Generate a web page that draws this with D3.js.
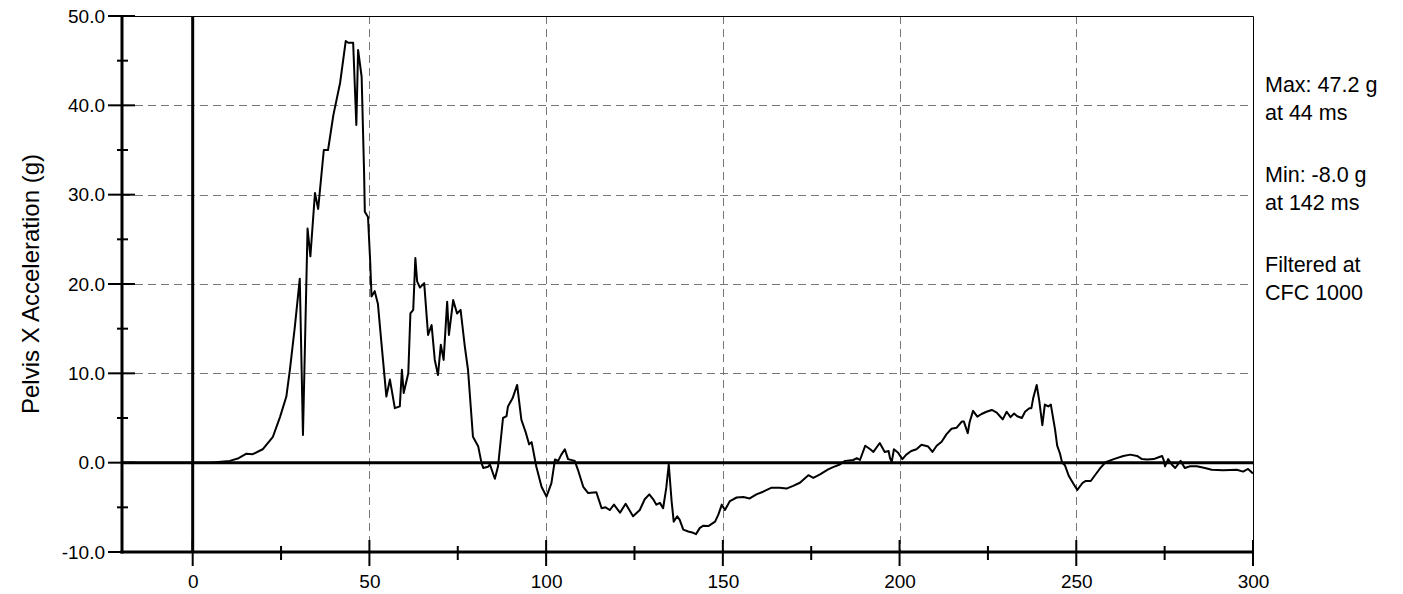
<!DOCTYPE html>
<html>
<head>
<meta charset="utf-8">
<script src="https://cdn.jsdelivr.net/npm/d3@7"></script>
<style>
  body{margin:0;background:#fff}
  svg{display:block;font-family:Arial,"Liberation Sans",sans-serif}
</style>
</head>
<body>
<div id="chart"></div>
<script>

  // trace: time (ms) and pelvis x acceleration (g)
  var time = [
    -20, 0, 5, 8, 10.5, 13, 15.2, 17, 19.8, 22.7, 24.7, 26.5, 27.5, 28.9, 30.3, 31.2, 32.5, 33.3, 34.6, 35.5,
    37.1, 38.3, 39.8, 41.7, 43.3, 44, 45.4, 46.3, 46.8, 47.8, 48.5, 48.7, 49.6, 50.2, 50.6, 51.5, 52.4, 53.4, 54.8, 55.8,
    57.2, 58.6, 59.2, 59.7, 61, 61.6, 62.4, 63, 63.5, 64.3, 65.5, 66.6, 67.6, 68.5, 69.4, 70.2, 71, 72, 72.5, 73.7,
    74.8, 75.8, 77, 77.9, 79.3, 80.8, 81.7, 82.2, 83.6, 84.1, 85.5, 86.4, 87.8, 88.8, 89.2, 90.5, 91.8, 93, 94.3, 95.2,
    95.9, 97.2, 98.7, 100.1, 101.5, 102.5, 103.4, 104.3, 105.3, 106.2, 108.1, 109, 110.5, 111.9, 114.2, 115.7, 116.8, 118, 119.2, 120.9,
    122.5, 124.6, 126.5, 127.9, 129.2, 130.3, 131.2, 132.2, 133.1, 134, 134.7, 135.5, 136.1, 137.1, 137.8, 138.8, 140.2, 141.6, 142.4, 143.5,
    144.5, 145.9, 147.8, 148.7, 149.7, 150.6, 152, 153.9, 155.8, 157.6, 159.5, 161.4, 163.8, 166.1, 168, 169.9, 171.8, 174.2, 175.6, 177.5,
    179.8, 181.2, 183.1, 184.6, 186.9, 187.9, 188.8, 190.3, 191.7, 192.6, 194.4, 195.8, 196.9, 197.3, 197.8, 198.4, 199.6, 200.8, 201.9, 203.3,
    204.8, 206.2, 208.1, 209.3, 210.5, 211.9, 213.3, 214.7, 216.1, 217.6, 218.2, 219.3, 219.8, 220.8, 222, 223.2, 224.6, 226.1, 227.5, 228.4,
    229.2, 230.3, 231.4, 232.4, 233.3, 234.6, 235.5, 236.7, 237.3, 237.8, 238.8, 239.5, 240.4, 241.1, 242.1, 242.8, 244, 244.6, 245.4, 246,
    246.8, 247.9, 249.4, 250.3, 251.8, 252.7, 254.1, 255.5, 256.9, 258.3, 260.6, 263.3, 265.3, 267.2, 268.6, 270, 271.9, 273.3, 274.3, 274.8,
    275.1, 276, 277, 278, 279.5, 280.7, 282.2, 284.1, 286.4, 288.3, 291.6, 295.4, 297.2, 298.6, 300
  ];
  var accel = [
    0, 0, 0, 0.1, 0.2, 0.5, 1.0, 0.95, 1.5, 2.9, 5.1, 7.4, 10.4, 15.2, 20.6, 3.1, 26.2, 23.1, 30.2, 28.4,
    35.0, 35.0, 38.9, 42.5, 47.2, 47.0, 47.0, 37.8, 46.2, 43.2, 32.4, 28.1, 27.5, 22.7, 18.6, 19.2, 17.8, 13.4, 7.4, 9.3,
    6.1, 6.3, 10.4, 7.8, 10.0, 16.7, 17.1, 22.9, 20.3, 19.6, 20.1, 14.3, 15.4, 11.5, 9.8, 13.2, 11.5, 18.0, 14.3, 18.2,
    16.7, 17.1, 13.0, 10.4, 2.9, 1.8, 0, -0.6, -0.45, -0.2, -1.8, -0.4, 5.0, 5.2, 6.3, 7.2, 8.7, 4.8, 3.3, 2.05,
    2.3, -0.4, -2.7, -3.8, -2.3, 0.35, 0.2, 0.9, 1.5, 0.4, 0.2, -0.8, -2.7, -3.4, -3.3, -5.1, -5.0, -5.3, -4.7, -5.6,
    -4.6, -6.0, -5.3, -4.1, -3.55, -4.1, -4.7, -4.5, -5.1, -2.8, -0.2, -4.3, -6.6, -6.0, -6.4, -7.5, -7.7, -7.85, -8.0, -7.3,
    -7.05, -7.1, -6.6, -5.85, -4.7, -5.3, -4.3, -3.9, -3.85, -4.0, -3.55, -3.25, -2.8, -2.8, -2.9, -2.6, -2.25, -1.4, -1.7, -1.3,
    -0.75, -0.5, -0.2, 0.2, 0.3, 0.5, 0.3, 1.9, 1.5, 1.2, 2.2, 1.2, 1.3, 0.5, 0.1, 1.5, 1.1, 0.4, 0.9, 1.3,
    1.5, 2.0, 1.8, 1.2, 1.9, 2.35, 3.2, 3.8, 3.9, 4.6, 4.6, 3.3, 4.5, 5.8, 5.15, 5.45, 5.7, 5.9, 5.6, 5.2,
    4.85, 5.7, 5.1, 5.5, 5.2, 5.0, 5.7, 6.1, 6.1, 7.2, 8.7, 7.0, 4.2, 6.5, 6.3, 6.5, 3.7, 1.9, 1.0, 0,
    -0.3, -1.5, -2.5, -3.05, -2.25, -2.05, -2.05, -1.3, -0.55, 0.05, 0.4, 0.75, 0.9, 0.75, 0.4, 0.35, 0.4, 0.6, 0.75, 0.2,
    -0.4, 0.4, -0.2, -0.6, 0.2, -0.6, -0.4, -0.4, -0.6, -0.8, -0.85, -0.8, -1.0, -0.7, -1.2
  ];

  // axes
  var xDomain = [-20, 300],
      yDomain = [-10, 50];
  var xMajor = [0, 50, 100, 150, 200, 250, 300],
      xMinor = [25, 75, 125, 175, 225, 275],
      yMajor = [-10, 0, 10, 20, 30, 40, 50],
      yMinor = [-5, 5, 15, 25, 35, 45];
  var xGrid = [50, 100, 150, 200, 250],
      yGrid = [10, 20, 30, 40];

  var yTitle = 'Pelvis X Acceleration (g)';
  var notes = [
    ['Max: 47.2 g', 'at 44 ms'],
    ['Min: -8.0 g', 'at 142 ms'],
    ['Filtered at', 'CFC 1000']
  ];

  // layout (window.top is taken, so prefixed names)
  var width      = 1403,
      height     = 594,
      plotLeft   = 122,
      plotRight  = 1253,
      plotTop    = 16,
      plotBottom = 552;

  var x = d3.scaleLinear().domain(xDomain).range([plotLeft, plotRight]);
  var y = d3.scaleLinear().domain(yDomain).range([plotBottom, plotTop]);

  var svg = d3.select('#chart').append('svg')
    .attr('width', width)
    .attr('height', height);

  // dashed grid
  var grid = svg.append('g')
    .attr('stroke', '#777')
    .attr('stroke-width', 1)
    .attr('stroke-dasharray', '8,5');

  grid.selectAll('.gx').data(xGrid).enter().append('line')
    .attr('class', 'gx')
    .attr('x1', function(d){ return Math.round(x(d)) + 0.5 })
    .attr('x2', function(d){ return Math.round(x(d)) + 0.5 })
    .attr('y1', plotTop)
    .attr('y2', plotBottom);

  grid.selectAll('.gy').data(yGrid).enter().append('line')
    .attr('class', 'gy')
    .attr('y1', function(d){ return Math.round(y(d)) + 0.5 })
    .attr('y2', function(d){ return Math.round(y(d)) + 0.5 })
    .attr('x1', plotLeft)
    .attr('x2', plotRight);

  // thin top and right frame
  svg.append('path')
    .attr('d', 'M' + plotLeft + ',' + (plotTop + 0.5) + 'H' + (plotRight + 0.5) + 'V' + plotBottom)
    .attr('fill', 'none')
    .attr('stroke', '#000')
    .attr('stroke-width', 1);

  // zero lines
  svg.append('line')
    .attr('x1', plotLeft).attr('x2', plotRight)
    .attr('y1', y(0)).attr('y2', y(0))
    .attr('stroke', '#000').attr('stroke-width', 3);
  svg.append('line')
    .attr('x1', x(0)).attr('x2', x(0))
    .attr('y1', plotTop).attr('y2', plotBottom)
    .attr('stroke', '#000').attr('stroke-width', 3);

  // the trace
  var points = time.map(function(t, i){ return [t, accel[i]] });
  var line = d3.line()
    .x(function(d){ return x(d[0]) })
    .y(function(d){ return y(d[1]) });

  svg.append('path')
    .datum(points)
    .attr('d', line)
    .attr('fill', 'none')
    .attr('stroke', '#000')
    .attr('stroke-width', 2)
    .attr('stroke-linejoin', 'round');

  // main axis lines
  svg.append('line')
    .attr('x1', plotLeft).attr('x2', plotLeft)
    .attr('y1', plotTop).attr('y2', plotBottom + 1.5)
    .attr('stroke', '#000').attr('stroke-width', 3);
  svg.append('line')
    .attr('x1', plotLeft - 1.5).attr('x2', plotRight + 1)
    .attr('y1', plotBottom).attr('y2', plotBottom)
    .attr('stroke', '#000').attr('stroke-width', 3);

  // ticks cross the axis on both sides
  var ticks = svg.append('g').attr('stroke', '#000').attr('stroke-width', 2);

  ticks.selectAll('.ymaj').data(yMajor).enter().append('line')
    .attr('x1', plotLeft - 14).attr('x2', plotLeft + 13)
    .attr('y1', function(d){ return y(d) })
    .attr('y2', function(d){ return y(d) });
  ticks.selectAll('.ymin').data(yMinor).enter().append('line')
    .attr('x1', plotLeft - 5).attr('x2', plotLeft + 6)
    .attr('y1', function(d){ return y(d) })
    .attr('y2', function(d){ return y(d) });
  ticks.selectAll('.xmaj').data(xMajor).enter().append('line')
    .attr('y1', plotBottom - 12).attr('y2', plotBottom + 14)
    .attr('x1', function(d){ return x(d) })
    .attr('x2', function(d){ return x(d) });
  ticks.selectAll('.xmin').data(xMinor).enter().append('line')
    .attr('y1', plotBottom - 6).attr('y2', plotBottom + 8)
    .attr('x1', function(d){ return x(d) })
    .attr('x2', function(d){ return x(d) });

  // tick labels through d3 axes, lines hidden
  // plain hyphen for negatives, like the original
  var yAxis = svg.append('g')
    .attr('transform', 'translate(' + plotLeft + ',0)')
    .call(d3.axisLeft(y).tickValues(yMajor)
      .tickFormat(function(d){ return d.toFixed(1) })
      .tickSize(0).tickPadding(17));
  var xAxis = svg.append('g')
    .attr('transform', 'translate(0,' + plotBottom + ')')
    .call(d3.axisBottom(x).tickValues(xMajor)
      .tickFormat(function(d){ return String(d) })
      .tickSize(0).tickPadding(23));

  [yAxis, xAxis].forEach(function(a){
    a.select('.domain').remove();
    a.selectAll('text')
      .attr('font-family', 'Arial, "Liberation Sans", sans-serif')
      .attr('font-size', 19)
      .attr('fill', '#000');
  });

  // y title
  svg.append('text')
    .attr('transform', 'translate(39,' + ((plotTop + plotBottom) / 2) + ') rotate(-90)')
    .attr('text-anchor', 'middle')
    .attr('font-size', 24)
    .attr('fill', '#000')
    .text(yTitle);

  // notes at right
  var noteG = svg.append('g')
    .attr('font-size', 21.5)
    .attr('fill', '#000');

  notes.forEach(function(n, i){
    var base = 92 + i * 90;
    noteG.append('text').attr('x', 1265).attr('y', base).text(n[0]);
    noteG.append('text').attr('x', 1265).attr('y', base + 28).text(n[1]);
  });

</script>
</body>
</html>
